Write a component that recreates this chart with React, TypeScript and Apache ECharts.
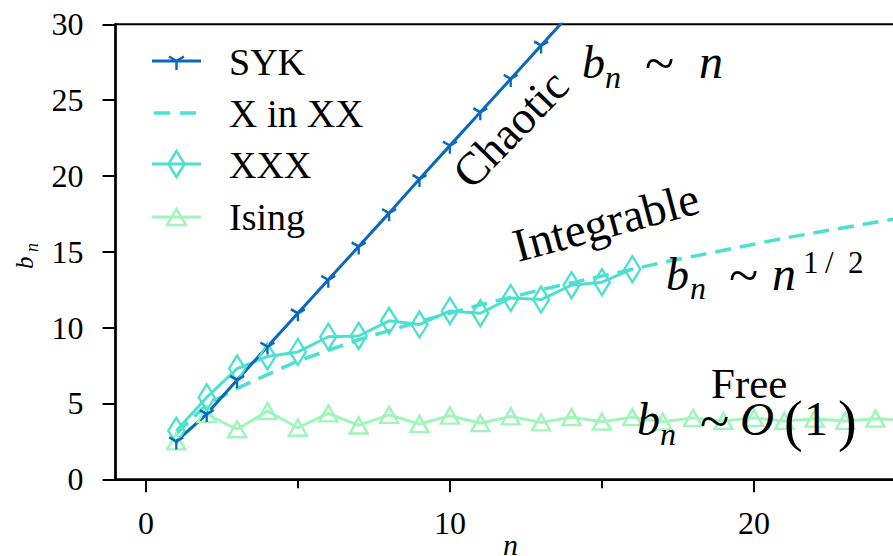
import React, { useEffect, useRef } from 'react';
import * as echarts from 'echarts';

// ---------------- data ----------------
const sykN = [1, 2, 3, 4, 5, 6, 7, 8, 9, 10, 11, 12, 13, 14];
const sykB = [2.5, 4.3, 6.55, 8.75, 10.95, 13.15, 15.35, 17.55, 19.8, 22.0, 24.2, 26.4, 28.6, 30.8];

const xInXXN = [1, 2, 3, 4, 5, 6, 7, 8, 9, 10, 11, 12, 13, 14, 15, 16, 17, 18, 19, 20, 21, 22, 23, 24, 25];
const xInXXB = [3.0, 4.9, 6.0, 6.9, 7.8, 8.5, 9.2, 9.8, 10.4, 10.95, 11.5, 12.0, 12.5, 12.95, 13.4, 13.85, 14.3, 14.7, 15.1, 15.5, 15.9, 16.25, 16.6, 16.95, 17.3];

const xxxN = [1, 2, 3, 4, 5, 6, 7, 8, 9, 10, 11, 12, 13, 14, 15, 16];
const xxxB = [3.2, 5.4, 7.3, 8.1, 8.4, 9.4, 9.45, 10.45, 10.2, 11.1, 10.95, 11.95, 11.85, 12.8, 13.0, 13.85];

const isingN = [1, 2, 3, 4, 5, 6, 7, 8, 9, 10, 11, 12, 13, 14, 15, 16, 17, 18, 19, 20, 21, 22, 23, 24, 25];
const isingB = [2.5, 4.3, 3.3, 4.5, 3.4, 4.35, 3.55, 4.25, 3.65, 4.2, 3.7, 4.15, 3.75, 4.1, 3.8, 4.1, 3.8, 4.05, 3.85, 4.05, 3.85, 4.0, 3.85, 4.0, 3.9];

const xMajorTicks = [0, 10, 20];
const xMinorTicks = [5, 15];
const legendNames = ['SYK', 'X in XX', 'XXX', 'Ising'];

// ---------------- style ----------------
const SYK_C = '#0a68bd';
const TURQ_C = '#4ddfcf';
const ISING_C = '#a2f5ba';
const FONT = 'Liberation Serif';
const TRI_DOWN = 'path://M0,-10 M0,0 L0,10 M0,0 L-8.66,-5 M0,0 L8.66,-5';

const zip = (a: number[], b: number[]) => a.map((v, i) => [v, b[i]]);

function txt(text: string, x: number, baseline: number, size: number, italic = false, rotation = 0) {
  const off = 0.34 * size;
  return {
    type: 'text',
    x: x - Math.sin(rotation) * off,
    y: baseline - Math.cos(rotation) * off,
    rotation,
    z: 100,
    style: {
      text,
      font: (italic ? 'italic ' : '') + size + 'px ' + FONT,
      fill: '#000',
      align: 'left',
      verticalAlign: 'middle',
      textAlign: 'left',
      textVerticalAlign: 'middle',
    },
  };
}

function line(x1: number, y1: number, x2: number, y2: number, color: string, w: number) {
  return { type: 'line', z: 100, shape: { x1, y1, x2, y2 }, style: { stroke: color, lineWidth: w } };
}

function buildGraphic() {
  const g: any[] = [];
  const lx1 = 152, lx2 = 201, cx = 176.5, tx = 229;
  const rows = [61, 113, 164, 217];
  // SYK
  g.push(line(lx1, rows[0], lx2, rows[0], SYK_C, 3));
  g.push(line(cx, rows[0], cx, rows[0] + 9, SYK_C, 2.5));
  g.push(line(cx, rows[0], cx - 7.5, rows[0] - 4.5, SYK_C, 2.5));
  g.push(line(cx, rows[0], cx + 7.5, rows[0] - 4.5, SYK_C, 2.5));
  g.push(txt(legendNames[0], tx, rows[0] + 14, 38));
  // X in XX
  g.push(line(154, rows[1], 170, rows[1], TURQ_C, 3.5));
  g.push(line(180, rows[1], 196, rows[1], TURQ_C, 3.5));
  g.push(txt(legendNames[1], tx, rows[1] + 14, 39));
  // XXX
  g.push(line(lx1, rows[2], lx2, rows[2], TURQ_C, 3));
  g.push({
    type: 'polygon', z: 100,
    shape: { points: [[cx, rows[2] - 13], [cx + 8, rows[2]], [cx, rows[2] + 13], [cx - 8, rows[2]]] },
    style: { fill: 'none', stroke: TURQ_C, lineWidth: 2.5 },
  });
  g.push(txt(legendNames[2], tx, rows[2] + 14, 38));
  // Ising
  g.push(line(lx1, rows[3], lx2, rows[3], ISING_C, 3));
  g.push({
    type: 'polygon', z: 100,
    shape: { points: [[cx, rows[3] - 8], [cx + 9.5, rows[3] + 8], [cx - 9.5, rows[3] + 8]] },
    style: { fill: 'none', stroke: ISING_C, lineWidth: 2.5 },
  });
  g.push(txt(legendNames[3], tx, rows[3] + 13, 38));

  // annotations
  g.push(txt('Chaotic', 472, 191, 46, false, (46 * Math.PI) / 180));
  g.push(txt('Integrable', 518, 262, 47, false, (15 * Math.PI) / 180));
  g.push(txt('Free', 711, 398, 43));

  // b_n ~ n
  g.push(txt('b', 582, 78, 46, true));
  g.push(txt('n', 605, 88, 32, true));
  g.push(txt('~', 645, 82, 54));
  g.push(txt('n', 699, 78, 48, true));

  // b_n ~ n^{1/2}
  g.push(txt('b', 666, 290, 46, true));
  g.push(txt('n', 690, 299, 32, true));
  g.push(txt('~', 729, 294, 54));
  g.push(txt('n', 772, 290, 48, true));
  g.push(txt('1', 803, 273, 31));
  g.push(txt('/', 825, 273, 31));
  g.push(txt('2', 848, 273, 31));

  // b_n ~ O(1)
  g.push(txt('b', 637, 435, 46, true));
  g.push(txt('n', 660, 445, 32, true));
  g.push(txt('~', 700, 440, 54));
  g.push(txt('O', 740, 435, 47, true));
  g.push(txt('(', 784, 440, 56));
  g.push(txt('1', 804, 435, 48));
  g.push(txt(')', 838, 440, 56));

  // axis names
  g.push(txt('b', 33, 269, 25, true, Math.PI / 2));
  g.push(txt('n', 38, 252, 18, true, Math.PI / 2));
  g.push(txt('n', 503, 555, 30, true));
  return g;
}

export default function App() {
  const ref = useRef<HTMLDivElement>(null);
  useEffect(() => {
    if (!ref.current) return;
    const chart = echarts.init(ref.current, undefined, { renderer: 'svg' });
    const tickLine = { color: '#000', width: 2 };
    const option: any = {
      animation: false,
      backgroundColor: '#fff',
      textStyle: { fontFamily: FONT },
      grid: {
        left: 115.5, top: 24.3, right: -12.9, bottom: 76.7,
        show: true, borderColor: '#000', borderWidth: 2,
        containLabel: false, outerBoundsMode: 'none',
      },
      xAxis: [
        {
          type: 'value', min: -1, max: 25,
          axisLine: { show: true, onZero: false, lineStyle: tickLine },
          axisTick: { show: true, customValues: xMajorTicks, length: 13, lineStyle: tickLine },
          axisLabel: { show: true, customValues: xMajorTicks, margin: 28, color: '#000', fontFamily: FONT, fontSize: 32 },
          splitLine: { show: false },
        },
        {
          type: 'value', min: -1, max: 25, position: 'bottom', gridIndex: 0,
          axisLine: { show: false },
          axisTick: { show: true, customValues: xMinorTicks, length: 9, lineStyle: tickLine },
          axisLabel: { show: false },
          splitLine: { show: false },
        },
      ],
      yAxis: {
        type: 'value', min: 0, max: 30, interval: 5,
        axisLine: { show: true, onZero: false, lineStyle: { color: '#000', width: 2.5 } },
        axisTick: { show: true, length: 13, lineStyle: tickLine },
        axisLabel: { margin: 32, color: '#000', fontFamily: FONT, fontSize: 32, padding: [6, 0, 0, 0] },
        splitLine: { show: false },
      },
      series: [
        {
          name: legendNames[3], type: 'line', data: zip(isingN, isingB),
          symbol: 'triangle', symbolSize: [18, 16], showSymbol: true,
          lineStyle: { color: ISING_C, width: 3 },
          itemStyle: { color: 'none', borderColor: ISING_C, borderWidth: 2.5 },
        },
        {
          name: legendNames[1], type: 'line', data: zip(xInXXN, xInXXB),
          symbol: 'none', showSymbol: false,
          lineStyle: { color: TURQ_C, width: 3.5, type: [16, 9] },
          itemStyle: { color: TURQ_C },
        },
        {
          name: legendNames[2], type: 'line', data: zip(xxxN, xxxB),
          symbol: 'diamond', symbolSize: [16, 26], showSymbol: true,
          lineStyle: { color: TURQ_C, width: 3 },
          itemStyle: { color: 'none', borderColor: TURQ_C, borderWidth: 2.5 },
        },
        {
          name: legendNames[0], type: 'line', data: zip(sykN, sykB),
          symbol: TRI_DOWN, symbolSize: [14, 16], showSymbol: true,
          lineStyle: { color: SYK_C, width: 3 },
          itemStyle: { color: SYK_C, borderColor: SYK_C, borderWidth: 2.5 },
        },
      ],
      graphic: buildGraphic(),
    };
    chart.setOption(option);
    return () => chart.dispose();
  }, []);
  return (
    <div
      ref={ref}
      style={{ position: 'fixed', left: 0, top: 0, width: 893, height: 556, background: '#fff' }}
    />
  );
}
